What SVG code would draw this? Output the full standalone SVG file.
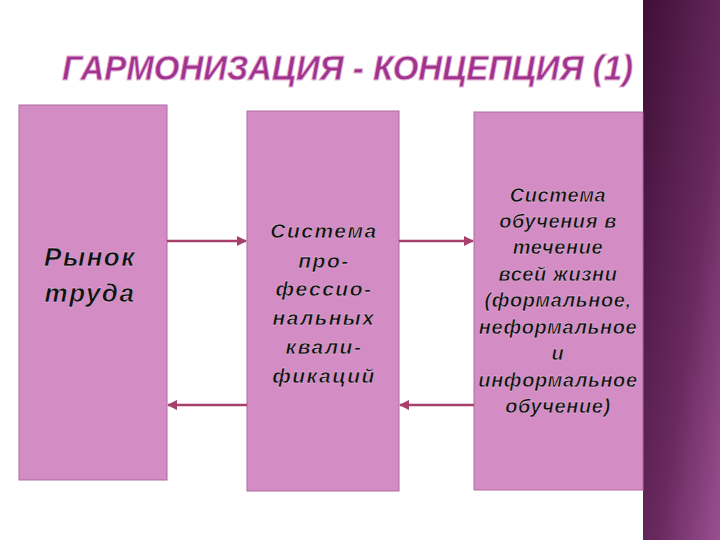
<svg xmlns="http://www.w3.org/2000/svg" width="720" height="540" viewBox="0 0 720 540">
<style>
.box{fill:#d48cc4;stroke:#b06aa0;stroke-width:1}
.t{font-family:"Liberation Sans",Arial,sans-serif;font-style:italic;font-weight:bold;fill:#111;stroke:#f0d0ea;stroke-width:0.4;text-anchor:middle}
.c{stroke:#a8406e;stroke-width:2.5;fill:none;marker-end:url(#ah)}
</style>
<defs>
<marker id="ah" viewBox="0 0 10 10" refX="9" refY="5" markerWidth="4" markerHeight="4" orient="auto"><path d="M0,0 L10,5 L0,10 z" fill="#a8406e"/></marker>
<linearGradient id="strip" x1="0" y1="0" x2="1" y2="1"><stop offset="0" stop-color="#3e0f36"/><stop offset="0.6" stop-color="#6a2a60"/><stop offset="1" stop-color="#9a5090"/></linearGradient>
</defs>
<rect width="720" height="540" fill="#fff"/>
<rect x="643" y="0" width="77" height="540" fill="url(#strip)"/>
<text x="62" y="80" textLength="571" lengthAdjust="spacingAndGlyphs" font-family="Liberation Sans,Arial,sans-serif" font-size="35" font-style="italic" font-weight="bold" fill="#a0338e" stroke="#e8b8dc" stroke-width="0.8">ГАРМОНИЗАЦИЯ  - КОНЦЕПЦИЯ  (1)</text>
<g id="n1"><rect class="box" x="19" y="105" width="148" height="375"/>
<text class="t" font-size="26" letter-spacing="1.5" x="90" y="266">Рынок</text><text class="t" font-size="26" letter-spacing="1.5" x="90" y="302">труда</text></g>
<g id="n2"><rect class="box" x="247" y="111" width="152" height="380"/>
<g class="t" font-size="21" letter-spacing="1.5"><text x="324" y="238">Система</text><text x="324" y="268">про-</text><text x="324" y="296">фессио-</text><text x="324" y="325">нальных</text><text x="324" y="354">квали-</text><text x="324" y="383">фикаций</text></g></g>
<g id="n3"><rect class="box" x="474" y="112" width="169" height="378"/>
<g class="t" font-size="20" letter-spacing="0.6"><text x="558" y="202">Система</text><text x="558" y="228">обучения в</text><text x="558" y="254">течение</text><text x="558" y="281">всей жизни</text><text x="558" y="307">(формальное,</text><text x="558" y="334">неформальное</text><text x="558" y="360">и</text><text x="558" y="387">информальное</text><text x="558" y="413">обучение)</text></g></g>
<g id="connectors">
<line class="c" x1="167" y1="241" x2="246" y2="241"/>
<line class="c" x1="399" y1="241" x2="473" y2="241"/>
<line class="c" x1="247" y1="405" x2="168" y2="405"/>
<line class="c" x1="474" y1="405" x2="400" y2="405"/>
</g>
</svg>
